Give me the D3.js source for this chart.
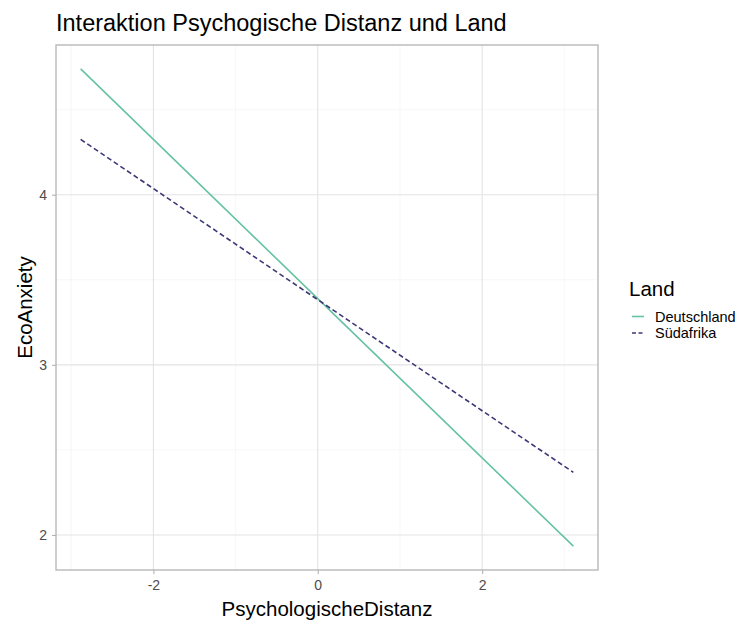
<!DOCTYPE html>
<html>
<head>
<meta charset="utf-8">
<title>Interaktion Psychogische Distanz und Land</title>
<style>
  body { margin: 0; background: #fff; }
  text { font-family: "Liberation Sans", Arial, sans-serif; }
</style>
</head>
<body>
<svg width="743" height="621"></svg>
<script src="https://d3js.org/d3.v7.min.js"></script>
<script>

// values
var distanz = [-2.885, 0, 3.11];
var deutschland = [4.74, 3.389, 1.934];
var suedafrika = [4.325, 3.383, 2.368];
var laender = ["Deutschland", "Südafrika"];
var xTicks = [-2, 0, 2];
var yTicks = [2, 3, 4];
var xMinor = [-3, -1, 1, 3];
var yMinor = [2.5, 3.5, 4.5];

var svg = d3.select("svg");

var pLeft = 56, pRight = 598, pTop = 45, pBottom = 570;

var x = d3.scaleLinear().domain([-3.185, 3.41]).range([pLeft, pRight]);
var y = d3.scaleLinear().domain([1.794, 4.88]).range([pBottom, pTop]);

var color = d3.scaleOrdinal().domain(laender).range(["#66C2A5", "#3D3877"]);
var dash = d3.scaleOrdinal().domain(laender).range(["none", "5,3"]);

// grid
svg.append("g").selectAll("line").data(xMinor).enter().append("line")
    .attr("x1", d => x(d)).attr("x2", d => x(d))
    .attr("y1", pTop).attr("y2", pBottom)
    .attr("stroke", "#f2f2f2").attr("stroke-width", 0.6);
svg.append("g").selectAll("line").data(yMinor).enter().append("line")
    .attr("y1", d => y(d)).attr("y2", d => y(d))
    .attr("x1", pLeft).attr("x2", pRight)
    .attr("stroke", "#f2f2f2").attr("stroke-width", 0.6);
svg.append("g").selectAll("line").data(xTicks).enter().append("line")
    .attr("x1", d => x(d)).attr("x2", d => x(d))
    .attr("y1", pTop).attr("y2", pBottom)
    .attr("stroke", "#e3e3e3").attr("stroke-width", 1.1);
svg.append("g").selectAll("line").data(yTicks).enter().append("line")
    .attr("y1", d => y(d)).attr("y2", d => y(d))
    .attr("x1", pLeft).attr("x2", pRight)
    .attr("stroke", "#e3e3e3").attr("stroke-width", 1.1);

// lines
var series = [
  { land: "Deutschland", values: deutschland },
  { land: "Südafrika", values: suedafrika }
];
var line = d3.line()
    .x((d, i) => x(distanz[i]))
    .y(d => y(d));

svg.append("g").selectAll("path").data(series).enter().append("path")
    .attr("d", d => line(d.values))
    .attr("fill", "none")
    .attr("stroke", d => color(d.land))
    .attr("stroke-dasharray", d => dash(d.land))
    .attr("stroke-width", 1.6);

// panel border
svg.append("rect")
    .attr("x", pLeft).attr("y", pTop)
    .attr("width", pRight - pLeft).attr("height", pBottom - pTop)
    .attr("fill", "none").attr("stroke", "#b3b3b3").attr("stroke-width", 1.3);

// axes
var xAxis = svg.append("g")
    .attr("transform", "translate(0," + pBottom + ")")
    .call(d3.axisBottom(x).tickValues(xTicks).tickSize(4).tickPadding(6).tickFormat(d3.format("d")));
var yAxis = svg.append("g")
    .attr("transform", "translate(" + pLeft + ",0)")
    .call(d3.axisLeft(y).tickValues(yTicks).tickSize(4).tickPadding(5).tickFormat(d3.format("d")));

[xAxis, yAxis].forEach(function(a) {
  a.select(".domain").remove();
  a.selectAll(".tick line").attr("stroke", "#b3b3b3").attr("stroke-width", 1.1);
  a.selectAll(".tick text")
      .attr("fill", "#4d4d4d")
      .style("font-size", "14px")
      .style("font-family", "'Liberation Sans', Arial, sans-serif");
});
xAxis.selectAll(".tick text").text(d => d < 0 ? "-" + Math.abs(d) : d);

// titles
svg.append("text")
    .attr("x", pLeft).attr("y", 31)
    .style("font-size", "23.5px")
    .text("Interaktion Psychogische Distanz und Land");

svg.append("text")
    .attr("x", (pLeft + pRight) / 2).attr("y", 616)
    .attr("text-anchor", "middle")
    .style("font-size", "20.5px")
    .text("PsychologischeDistanz");

svg.append("text")
    .attr("transform", "translate(32," + (pTop + pBottom) / 2 + ") rotate(-90)")
    .attr("text-anchor", "middle")
    .style("font-size", "20.5px")
    .text("EcoAnxiety");

// legend
var legend = svg.append("g");
legend.append("text")
    .attr("x", 629).attr("y", 296)
    .style("font-size", "20.5px")
    .text("Land");

var item = legend.selectAll(".item").data(laender).enter().append("g")
    .attr("class", "item")
    .attr("transform", (d, i) => "translate(0," + (316.5 + i * 16.5) + ")");
item.append("line")
    .attr("x1", 632).attr("x2", 644)
    .attr("stroke", d => color(d))
    .attr("stroke-dasharray", d => d === "Südafrika" ? "4,2.5" : "none")
    .attr("stroke-width", 1.6);
item.append("text")
    .attr("x", 655).attr("y", 5)
    .style("font-size", "14.5px")
    .text(d => d);

</script>
</body>
</html>
